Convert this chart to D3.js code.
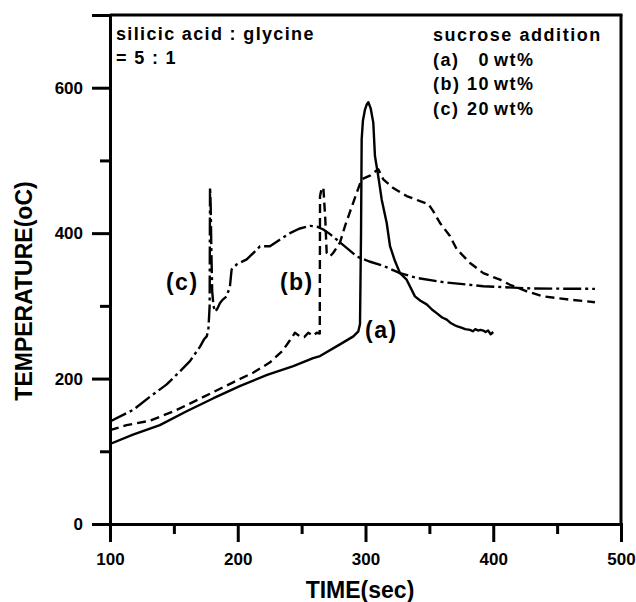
<!DOCTYPE html>
<html>
<head>
<meta charset="utf-8">
<script src="https://cdn.jsdelivr.net/npm/d3@7"></script>
<style>
  html, body { margin: 0; padding: 0; background: #fff; }
  svg { display: block; }
  text { font-family: "Liberation Sans", Arial, sans-serif; font-weight: bold; fill: #000; }
</style>
</head>
<body>
<svg id="chart" width="636" height="602"></svg>
<script>
// Temperature profiles during combustion, time (sec) vs temperature (°C)

// (a) 0 wt% sucrose — solid line
const timeA = [100, 118, 139, 160, 181, 202, 223, 243.5, 259, 264.4, 280, 290.5, 294.4, 295.7, 296.5, 297, 298, 299.6, 301, 302.2, 304, 306.1, 307.4, 310, 312.7, 316.6, 319.2, 323, 327, 332.2, 338.7, 343, 347.9, 352, 355.7, 360, 363.6, 367, 371.4, 375, 378, 381.8, 384, 386, 388, 390, 392.2, 394, 396, 398, 400];
const tempA = [110, 123, 136, 155, 173, 190, 205, 217, 228, 231, 247, 258, 265, 275, 400, 529, 555, 570, 577, 580, 572, 552, 506, 478, 446, 414, 382, 362, 345, 336, 313, 307, 302, 295, 290, 284, 281, 276, 272, 270, 268, 267, 265, 268, 266, 267, 266, 264, 266, 261, 264];

// (b) 10 wt% sucrose — dashed line
const timeB = [100, 113, 131, 150, 170, 185, 200, 212, 225, 235, 241, 244.8, 248.7, 252, 255.2, 259.1, 261.8, 264.2, 264.4, 265.5, 267, 268.5, 269.6, 272.2, 274.8, 280, 284, 288, 293, 297, 303.5, 310, 313.9, 321.7, 332.2, 342.7, 349.2, 353.1, 358.3, 366.1, 371.4, 381.8, 392.2, 405.3, 413.1, 426.2, 439.1, 457.5, 479.6];
const tempB = [129, 136, 142, 155, 172, 185, 198, 208, 222, 238, 253, 263, 258, 257, 263, 259, 263, 262, 451, 460, 463, 420, 373, 368, 373, 387, 410, 430, 455, 474, 479, 488, 474, 462, 451, 444, 440, 430, 414, 396, 378, 359, 345, 336, 329, 320, 313, 309, 305];

// (c) 20 wt% sucrose — dash-dot line
const timeC = [100, 118.2, 131.3, 144.4, 154.8, 162.6, 170.5, 173.6, 175.7, 177, 178, 178.3, 178.8, 179.3, 180, 181, 182.2, 184, 186.1, 188.5, 191.3, 193.9, 195.2, 199.2, 207, 214.8, 217.4, 225.2, 232, 240.9, 248, 256.6, 262, 267, 272, 277.5, 285, 293.1, 303, 314, 327, 340, 360.9, 392.2, 431.4, 479.6];
const tempC = [141, 157, 175, 192, 210, 224, 244, 254, 258, 267, 300, 463, 440, 380, 320, 300, 292, 296, 304, 309, 313, 327, 350, 357, 364, 377, 382, 382, 390, 400, 406, 410, 409, 405, 399, 391, 380, 368, 361, 355, 345, 338.5, 332.6, 327, 323.8, 323.4];

const xTicksMajor = [100, 200, 300, 400, 500];
const xTicksMinor = [150, 250, 350, 450];
const yTicksMajor = [0, 200, 400, 600];
const yTicksMinor = [100, 300, 500, 700];

const curveLabels = ["(a)", "(b)", "(c)"];
const labelPos = [[299.6, 256], [233, 322], [143.8, 322]]; // [time, temp] of each label's baseline start

const noteLines = ["silicic acid : glycine", "= 5 : 1"];
const legendTitle = "sucrose addition";
const legendKeys = ["(a)", "(b)", "(c)"];
const legendAmounts = ["0", "10", "20"];

const svg = d3.select("#chart");
const x = d3.scaleLinear().domain([100, 500]).range([110, 621]);
const y = d3.scaleLinear().domain([0, 700]).range([524, 15]);

const series = [
  { t: timeA, v: tempA, dash: null },
  { t: timeB, v: tempB, dash: "9,5" },
  { t: timeC, v: tempC, dash: "18,4,3,4" }
];

const line = d3.line()
  .x(d => x(d[0]))
  .y(d => y(d[1]))
  .curve(d3.curveLinear);

svg.append("g").selectAll("path")
  .data(series)
  .join("path")
  .attr("d", s => line(s.t.map((t, i) => [t, s.v[i]])))
  .attr("fill", "none")
  .attr("stroke", "#000")
  .attr("stroke-width", 2.4)
  .attr("stroke-linejoin", "round")
  .attr("stroke-dasharray", s => s.dash);

// Frame (top and right)
const frame = svg.append("g").attr("stroke", "#000").attr("stroke-width", 3).attr("fill", "none");
frame.append("line").attr("x1", x(100)).attr("x2", x(500) + 1.5).attr("y1", y(700)).attr("y2", y(700));
frame.append("line").attr("x1", x(500)).attr("x2", x(500)).attr("y1", y(700)).attr("y2", y(0));

// Bottom axis
const xAxisMajor = d3.axisBottom(x).tickValues(xTicksMajor).tickSize(18).tickPadding(11).tickFormat(d3.format("d"));
const xAxisMinor = d3.axisBottom(x).tickValues(xTicksMinor).tickSize(10).tickFormat("");
const gx = svg.append("g").attr("transform", `translate(0,${y(0)})`).call(xAxisMajor);
const gxm = svg.append("g").attr("transform", `translate(0,${y(0)})`).call(xAxisMinor);

// Left axis
const yAxisMajor = d3.axisLeft(y).tickValues(yTicksMajor).tickSize(18).tickPadding(9).tickFormat(d3.format("d"));
const yAxisMinor = d3.axisLeft(y).tickValues(yTicksMinor).tickSize(10).tickFormat("");
const gy = svg.append("g").attr("transform", `translate(${x(100)},0)`).call(yAxisMajor);
const gym = svg.append("g").attr("transform", `translate(${x(100)},0)`).call(yAxisMinor);

[gx, gxm, gy, gym].forEach(g => {
  g.select(".domain").attr("stroke", "#000").attr("stroke-width", 3);
  g.selectAll(".tick line").attr("stroke", "#000").attr("stroke-width", 3);
  g.selectAll(".tick text")
    .attr("font-family", "'Liberation Sans', Arial, sans-serif")
    .attr("font-weight", "bold")
    .attr("font-size", 17)
    .attr("fill", "#000");
});
gx.selectAll(".tick text").attr("dy", "0.71em");

// Axis titles
svg.append("text")
  .attr("x", 360).attr("y", 598)
  .attr("text-anchor", "middle")
  .attr("font-size", 23)
  .text("TIME(sec)");

svg.append("text")
  .attr("transform", "translate(32,291) rotate(-90)")
  .attr("text-anchor", "middle")
  .attr("font-size", 23)
  .text("TEMPERATURE(oC)");

// Composition note (top left)
svg.append("g").selectAll("text")
  .data(noteLines)
  .join("text")
  .attr("x", 116)
  .attr("y", (d, i) => 40 + i * 24)
  .attr("font-size", 18)
  .attr("letter-spacing", 1.35)
  .text(d => d);

// Legend (top right)
const lg = svg.append("g").attr("font-size", 18).attr("letter-spacing", 1.55);
lg.append("text").attr("x", 433).attr("y", 41).text(legendTitle);
legendKeys.forEach((k, i) => {
  const yy = 65.5 + i * 24.7;
  lg.append("text").attr("x", 433).attr("y", yy).text(k);
  lg.append("text").attr("x", 490).attr("y", yy).attr("text-anchor", "end").text(legendAmounts[i]);
  lg.append("text").attr("x", 494).attr("y", yy).text("wt%");
});

// Curve labels
svg.append("g").selectAll("text")
  .data(curveLabels)
  .join("text")
  .attr("x", (d, i) => x(labelPos[i][0]))
  .attr("y", (d, i) => y(labelPos[i][1]))
  .attr("font-size", 23)
  .attr("letter-spacing", 1.5)
  .text(d => d);
</script>
</body>
</html>
